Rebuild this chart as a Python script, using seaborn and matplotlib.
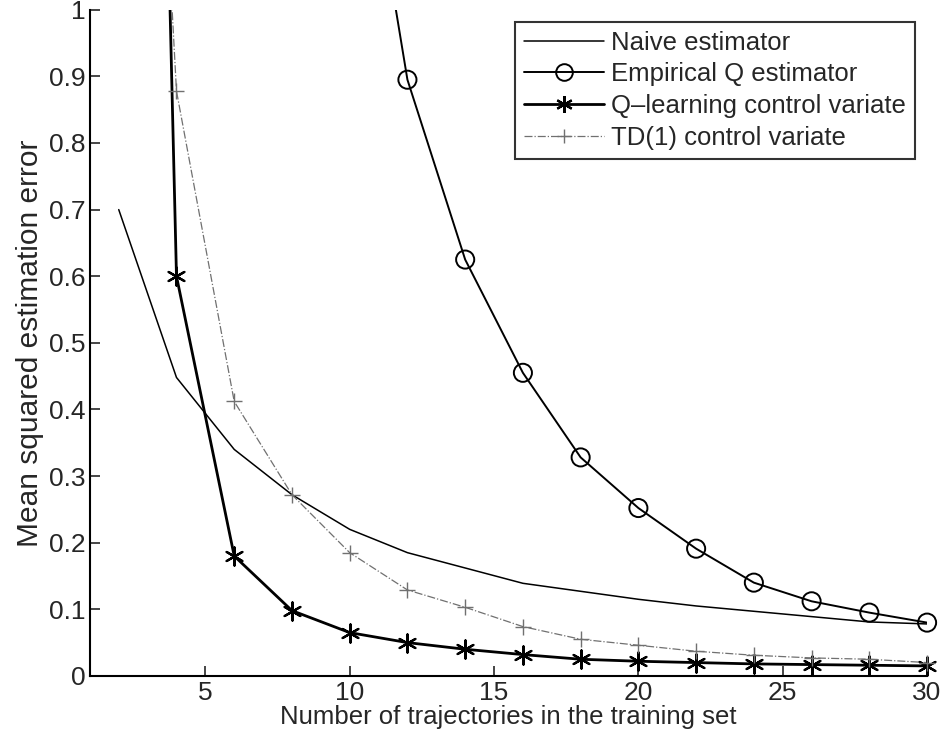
"""
Estimation error vs. number of training trajectories.
"""

import pandas as pd
import matplotlib
matplotlib.use("Agg")
import matplotlib.pyplot as plt
from matplotlib.lines import Line2D
import seaborn as sns

# data
naive_x = [2, 4, 6, 8, 10, 12, 14, 16, 18, 20, 22, 24, 26, 28, 30]
naive_y = [0.70, 0.448, 0.34, 0.272, 0.22, 0.185, 0.162, 0.139, 0.127, 0.115,
           0.105, 0.097, 0.089, 0.081, 0.078]

emp_x = [10, 12, 14, 16, 18, 20, 22, 24, 26, 28, 30]
emp_y = [1.42, 0.895, 0.625, 0.455, 0.328, 0.252, 0.191, 0.140, 0.112, 0.095, 0.080]

ql_x = [2, 4, 6, 8, 10, 12, 14, 16, 18, 20, 22, 24, 26, 28, 30]
ql_y = [4.2, 0.60, 0.18, 0.098, 0.065, 0.050, 0.040, 0.032, 0.025, 0.022,
        0.020, 0.018, 0.017, 0.016, 0.015]

td_x = [2, 4, 6, 8, 10, 12, 14, 16, 18, 20, 22, 24, 26, 28, 30]
td_y = [2.5, 0.878, 0.412, 0.272, 0.185, 0.129, 0.103, 0.074, 0.055, 0.046,
        0.037, 0.031, 0.027, 0.025, 0.020]

labels = ["Naive estimator", "Empirical Q estimator",
          "Q\u2013learning control variate", "TD(1) control variate"]

x_ticks = [5, 10, 15, 20, 25, 30]
y_ticks = [0, 0.1, 0.2, 0.3, 0.4, 0.5, 0.6, 0.7, 0.8, 0.9, 1]
y_tick_labels = ["0", "0.1", "0.2", "0.3", "0.4", "0.5", "0.6", "0.7", "0.8", "0.9", "1"]

sns.set_style("ticks")
plt.rcParams["font.family"] = ["Liberation Sans", "DejaVu Sans"]

fig = plt.figure(figsize=(9.46, 7.51), dpi=100)
ax = fig.add_axes([0.095, 0.10, 0.885, 0.887])

GRAY = "#707070"
asterisk = (6, 2, 0)

series = [
    (naive_x, naive_y, dict(color="black", lw=1.1, ls="-"), None, {}),
    (emp_x, emp_y, dict(color="black", lw=1.4, ls="-"), "o",
     dict(s=170, facecolors="none", edgecolors="black", linewidths=1.4)),
    (ql_x, ql_y, dict(color="black", lw=2.0, ls="-"), asterisk,
     dict(s=170, color="black", linewidths=1.6)),
    (td_x, td_y, dict(color=GRAY, lw=0.9, ls="-."), "+",
     dict(s=120, color=GRAY, linewidths=1.0)),
]

for xs, ys, line_kw, marker, mkw in series:
    df = pd.DataFrame({"x": xs, "y": ys})
    sns.lineplot(data=df, x="x", y="y", ax=ax, legend=False, **line_kw)
    if marker is not None:
        # markers stay unclipped so the one at x=30 is drawn whole
        inside = df[df["y"] <= 1.0]
        sns.scatterplot(data=inside, x="x", y="y", ax=ax, marker=marker,
                        legend=False, clip_on=False, zorder=5, **mkw)

ax.set_xlim(1, 30)
ax.set_ylim(0, 1)
ax.set_xticks(x_ticks)
ax.set_xticklabels([str(t) for t in x_ticks])
ax.set_yticks(y_ticks)
ax.set_yticklabels(y_tick_labels)
ax.tick_params(direction="in", length=7, width=1.2, labelsize=19)
ax.tick_params(axis="y", pad=3)
ax.tick_params(axis="x", pad=4)
for side in ["top", "right"]:
    ax.spines[side].set_visible(False)
for side in ["left", "bottom"]:
    ax.spines[side].set_linewidth(1.5)
    ax.spines[side].set_color("black")

ax.set_xlabel("Number of trajectories in the training set", fontsize=18.5, labelpad=0)
ax.set_ylabel("Mean squared estimation error", fontsize=21.5, labelpad=4)

handles = [
    Line2D([], [], color="black", lw=1.1),
    Line2D([], [], color="black", lw=1.4, marker="o", markersize=12,
           markerfacecolor="none", markeredgecolor="black", markeredgewidth=1.4),
    Line2D([], [], color="black", lw=2.0, marker=asterisk, markersize=12,
           markeredgewidth=1.6),
    Line2D([], [], color=GRAY, lw=0.9, ls="-.", marker="+", markersize=10,
           markeredgewidth=1.0),
]
leg = ax.legend(handles, labels, loc="upper right", bbox_to_anchor=(0.986, 0.982),
                fontsize=18.5, frameon=True, fancybox=False, edgecolor="black",
                handlelength=3.1, handletextpad=0.3, labelspacing=0.3,
                borderpad=0.35, borderaxespad=0)
leg.get_frame().set_linewidth(1.5)

fig.savefig("out.png", dpi=100)
